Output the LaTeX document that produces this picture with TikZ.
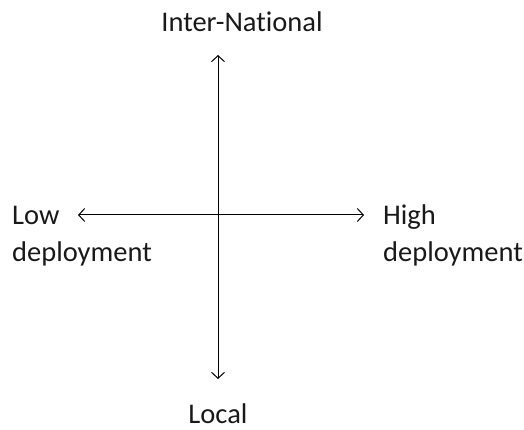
\documentclass[tikz,border=0pt]{standalone}
\usepackage{fontspec}
\setmainfont{Carlito}[Ligatures=NoCommon]
\usetikzlibrary{arrows.meta}
\begin{document}
\begin{tikzpicture}[x=1pt,y=1pt,
  lbl/.style={inner sep=0pt,font=\fontsize{28.5}{37}\selectfont,text=black!90},
  axis/.style={line width=1pt,{Straight Barb[length=6pt,width=13pt]}-{Straight Barb[length=6pt,width=13pt]}}]
\useasboundingbox (0,0) rectangle (524,430);
\coordinate (top) at (218,375);
\coordinate (bot) at (218,51);
\coordinate (lft) at (78,215);
\coordinate (rgt) at (364,215);
\draw[axis] (top) -- (bot);
\draw[axis] (lft) -- (rgt);
\node[lbl,anchor=base] (inter) at (242,398) {Inter-National};
\node[lbl,anchor=base] (local) at (218,6) {Local};
\node[lbl,anchor=base west,align=left] (low) at (12,168) {Low\\deployment};
\node[lbl,anchor=base west,align=left] (high) at (383,168) {High\\deployment};
\end{tikzpicture}
\end{document}
